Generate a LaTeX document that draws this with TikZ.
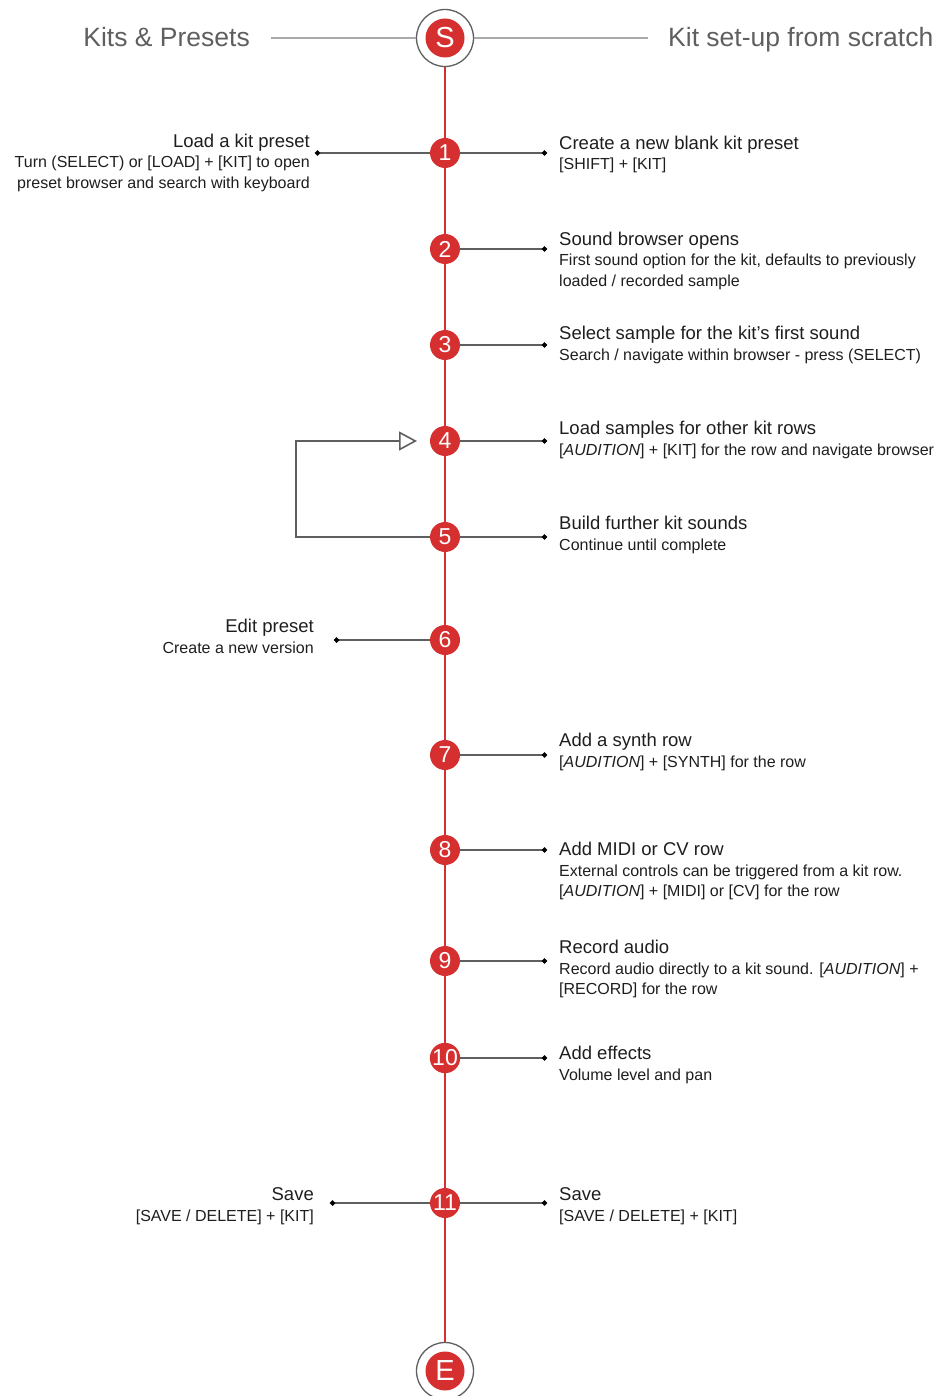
\documentclass[tikz,border=0pt]{standalone}
\usepackage{fontspec}
\setmainfont{Liberation Sans}
\usetikzlibrary{arrows.meta,backgrounds}

\definecolor{stepred}{RGB}{214,47,47}
\definecolor{wiregray}{RGB}{95,95,95}
\definecolor{rulegray}{RGB}{170,170,170}
\definecolor{titlegray}{RGB}{95,95,95}
\definecolor{inkgray}{RGB}{30,30,30}

\tikzset{
  stepnum/.style={circle, fill=stepred, minimum size=30pt, inner sep=0pt,
    text=white, font=\fontsize{23}{23}\selectfont},
  endnum/.style={circle, fill=stepred, minimum size=39pt, inner sep=0pt,
    text=white, font=\fontsize{29}{29}\selectfont},
  ring/.style={circle, draw=wiregray, line width=1.3pt, fill=white,
    minimum size=57pt, inner sep=0pt},
  titletext/.style={text=titlegray, inner sep=0pt,
    font=\fontsize{26.5}{30}\selectfont},
  note/.style={text=inkgray, inner sep=0pt, font=\fontsize{16}{20.5}\selectfont},
  wire/.style={wiregray, line width=1.4pt, -{Circle[length=5.2pt, black]}},
  rule/.style={rulegray, line width=1.3pt},
  spine/.style={stepred, line width=2pt},
  loopline/.style={wiregray, line width=1.6pt,
    -{Triangle[open, length=18pt, width=19pt, fill=white]}}
}

\begin{document}
\begin{tikzpicture}[x=1pt, y=-1pt]
\useasboundingbox (0,0) rectangle (937,1396);

% start and end marks
\node[ring] (startring) at (445,38) {};
\node[endnum] (start) at (startring) {S};
\node[ring] (endring) at (445,1371) {};
\node[endnum] (finish) at (endring) {E};

% column titles
\node[titletext, anchor=base east] (lefttitle) at (250,47) {Kits \& Presets};
\node[titletext, anchor=base west] (righttitle) at (668,47) {Kit set-up from scratch};
\coordinate (ruleleft) at (271,38);
\coordinate (ruleright) at (648,38);
\draw[rule] (ruleleft) -- (startring);
\draw[rule] (startring) -- (ruleright);

% numbered steps
\foreach \n/\y in {1/153, 2/249, 3/345, 4/441, 5/537, 6/640, 7/755,
                   8/850, 9/961, 10/1058, 11/1203}
  \node[stepnum] (n\n) at (445,\y) {\n};

\begin{scope}[on background layer]
  \draw[spine] (startring) -- (endring);
\end{scope}

% leads to the right column
\foreach \n/\y in {1/153, 2/249, 3/345, 4/441, 5/537, 7/755, 8/850,
                   9/961, 10/1058, 11/1203}{
  \coordinate (dr\n) at (547,\y);
  \draw[wire] (n\n) -- (dr\n);
}
% leads to the left column
\foreach \n/\x/\y in {1/315/153, 6/334/640, 11/330/1203}{
  \coordinate (dl\n) at (\x,\y);
  \draw[wire] (n\n) -- (dl\n);
}

% repeat loop from 5 back to 4
\coordinate (looptip) at (417,441);
\draw[loopline] (n5.west) -- ++(-134,0) |- (looptip);

% right column (node base = last line)
\node[note, align=left, anchor=base west] (r1) at (559,170)
  {{\fontsize{18.5}{20.5}\selectfont Create a new blank kit preset}\\{}[SHIFT] + [KIT]};
\node[note, align=left, anchor=base west] (r2) at (559,286.5)
  {{\fontsize{18.5}{20.5}\selectfont Sound browser opens}\\
   First sound option for the kit, defaults to previously\\
   loaded / recorded sample};
\node[note, align=left, anchor=base west] (r3) at (559,360)
  {{\fontsize{18.5}{20.5}\selectfont Select sample for the kit’s first sound}\\
   Search / navigate within browser - press (SELECT)};
\node[note, align=left, anchor=base west] (r4) at (559,455)
  {{\fontsize{18.5}{20.5}\selectfont Load samples for other kit rows}\\
   {}[\textit{AUDITION}] + [KIT] for the row and navigate browser};
\node[note, align=left, anchor=base west] (r5) at (559,550)
  {{\fontsize{18.5}{20.5}\selectfont Build further kit sounds}\\
   Continue until complete};
\node[note, align=left, anchor=base west] (r7) at (559,767)
  {{\fontsize{18.5}{20.5}\selectfont Add a synth row}\\
   {}[\textit{AUDITION}] + [SYNTH] for the row};
\node[note, align=left, anchor=base west] (r8) at (559,896.5)
  {{\fontsize{18.5}{20.5}\selectfont Add MIDI or CV row}\\
   External controls can be triggered from a kit row.\\
   {}[\textit{AUDITION}] + [MIDI] or [CV] for the row};
\node[note, align=left, anchor=base west] (r9) at (559,994.5)
  {{\fontsize{18.5}{20.5}\selectfont Record audio}\\
   Record audio directly to a kit sound. [\textit{AUDITION}] +\\
   {}[RECORD] for the row};
\node[note, align=left, anchor=base west] (r10) at (559,1080)
  {{\fontsize{18.5}{20.5}\selectfont Add effects}\\
   Volume level and pan};
\node[note, align=left, anchor=base west] (r11) at (559,1221)
  {{\fontsize{18.5}{20.5}\selectfont Save}\\
   {}[SAVE / DELETE] + [KIT]};

% left column
\node[note, align=right, anchor=base east] (l1) at (310,188.5)
  {{\fontsize{18.5}{20.5}\selectfont Load a kit preset}\\
   Turn (SELECT) or [LOAD] + [KIT] to open\\
   preset browser and search with keyboard};
\node[note, align=right, anchor=base east] (l6) at (314,653)
  {{\fontsize{18.5}{20.5}\selectfont Edit preset}\\
   Create a new version};
\node[note, align=right, anchor=base east] (l11) at (314,1221)
  {{\fontsize{18.5}{20.5}\selectfont Save}\\
   {}[SAVE / DELETE] + [KIT]};

\end{tikzpicture}
\end{document}
